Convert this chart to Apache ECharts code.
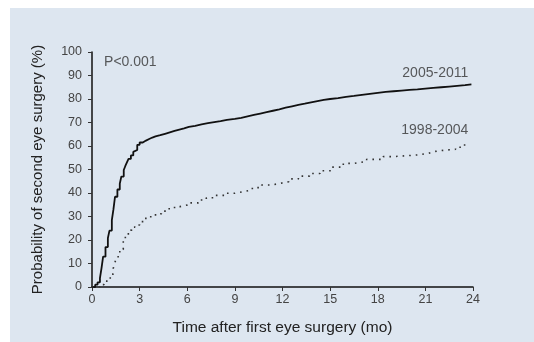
<!DOCTYPE html>
<html>
<head>
<meta charset="utf-8">
<script src="https://cdn.jsdelivr.net/npm/echarts@6/dist/echarts.min.js"></script>
<style>
html,body{margin:0;padding:0;background:#fff;}
#c{width:534px;height:342px;}
</style>
</head>
<body>
<div id="c"></div>
<script>
var xTicks = [0, 3, 6, 9, 12, 15, 18, 21, 24];
var yTicks = [0, 10, 20, 30, 40, 50, 60, 70, 80, 90, 100];

var recentName = '2005-2011';
var recentTime = [0,0.2,0.35,0.5,0.6,0.7,0.85,1.0,1.1,1.25,1.35,1.45,1.6,1.75,1.85,2.0,2.1,2.2,2.3,2.45,2.6,2.7,2.85,3.0,3.2,3.4,3.6,3.8,4.0,4.3,4.6,4.9,5.2,5.5,5.8,6.1,6.5,6.9,7.3,7.7,8.1,8.5,9,9.4,9.8,10.2,10.6,11,11.4,11.8,12.2,12.6,13,13.4,13.8,14.2,14.6,15,15.5,16,16.5,17,17.5,18,18.5,19,19.5,20,20.5,21,21.5,22,22.5,23,23.5,23.9];
var recentProb = [0,1,2,3.8,8,12.9,17,20.8,24,28.5,33,38.4,41.5,44,47,49.8,51.5,53,54.5,56,57.5,58.3,60.5,61.5,62.3,63,63.6,64.1,64.6,65.2,65.8,66.4,67,67.5,68.1,68.6,69.2,69.7,70.2,70.6,71.1,71.5,72,72.6,73.2,73.8,74.4,75,75.6,76.3,76.9,77.5,78,78.6,79.1,79.6,80,80.4,80.9,81.3,81.8,82.2,82.6,83,83.3,83.6,83.9,84.1,84.4,84.7,85,85.3,85.6,85.9,86.2,86.4];

var earlyName = '1998-2004';
var earlyTime = [0,0.5,0.75,0.93,1.15,1.34,1.45,1.55,1.75,1.97,2.1,2.29,2.5,2.7,3.0,3.34,3.7,4.0,4.39,4.8,5.2,5.54,6.0,6.7,7.2,7.8,8.38,9.0,9.53,10.1,10.69,11.3,11.84,12.4,13,13.7,14.36,15.1,15.83,16.5,17.3,18.35,19,19.7,20.5,21.2,21.5,22.3,22.9,23.4,23.7];
var earlyProb = [0,1,2,3,5.5,8,10.5,12.9,16,19.7,22,24.2,25.5,26.4,27.8,29.2,30.3,31.2,32.3,33.3,34.2,34.9,35.8,37,38,39,39.9,40.6,41.3,42.3,43.4,44.1,44.8,46,47.2,48.3,49.5,51,52.6,53.4,54.3,55.5,55.8,56.2,56.9,57.6,58.3,58.6,59.5,60.4,60.8];

var pText = 'P<0.001';

function pairs(t, v) { return t.map(function (x, i) { return [x, v[i]]; }); }

var chart = echarts.init(document.getElementById('c'));
var font = 'Liberation Sans, Arial, sans-serif';
chart.setOption({
  animation: false,
  backgroundColor: 'transparent',
  graphic: [{
    type: 'rect', z: -10, silent: true,
    shape: { x: 10, y: 8, width: 524, height: 334 },
    style: { fill: '#dde6f0' }
  }],
  grid: { left: 92, right: 61, top: 52, bottom: 55 },
  xAxis: {
    type: 'value', min: 0, max: 24, interval: 3,
    name: 'Time after first eye surgery (mo)',
    nameLocation: 'middle', nameGap: 33,
    nameTextStyle: { fontFamily: font, fontSize: 15.5, color: '#222' },
    axisLine: { lineStyle: { color: '#111', width: 1.5 } },
    axisTick: { length: 4, lineStyle: { color: '#333' } },
    axisLabel: { fontFamily: font, fontSize: 12.5, color: '#444', margin: 6,
      formatter: function (v) { return xTicks.indexOf(v) >= 0 ? String(v) : ''; } },
    splitLine: { show: false }
  },
  yAxis: {
    type: 'value', min: 0, max: 100, interval: 10,
    name: 'Probability of second eye surgery (%)',
    nameLocation: 'middle', nameGap: 47,
    nameTextStyle: { fontFamily: font, fontSize: 15, color: '#222' },
    axisLine: { show: true, lineStyle: { color: '#111', width: 1.5 } },
    axisTick: { show: true, length: 4, lineStyle: { color: '#333' } },
    axisLabel: { fontFamily: font, fontSize: 12.5, color: '#444', margin: 10,
      formatter: function (v) { return yTicks.indexOf(v) >= 0 ? String(v) : ''; } },
    splitLine: { show: false }
  },
  series: [{
    name: recentName, type: 'line', step: 'end', showSymbol: false,
    data: pairs(recentTime, recentProb),
    lineStyle: { color: '#111', width: 1.8 }
  }, {
    name: earlyName, type: 'line', step: 'end', showSymbol: false,
    data: pairs(earlyTime, earlyProb),
    lineStyle: { color: '#333', width: 1.6, type: [1.6, 5] }
  }, {
    type: 'scatter', symbolSize: 0, silent: true,
    data: [
      { value: [0.76, 95.7], label: { formatter: pText, align: 'left' } },
      { value: [23.7, 91.2], label: { formatter: recentName, align: 'right' } },
      { value: [23.7, 66.8], label: { formatter: earlyName, align: 'right' } }
    ],
    label: { show: true, position: 'inside', fontFamily: font, fontSize: 14, color: '#333' }
  }]
});
</script>
</body>
</html>
